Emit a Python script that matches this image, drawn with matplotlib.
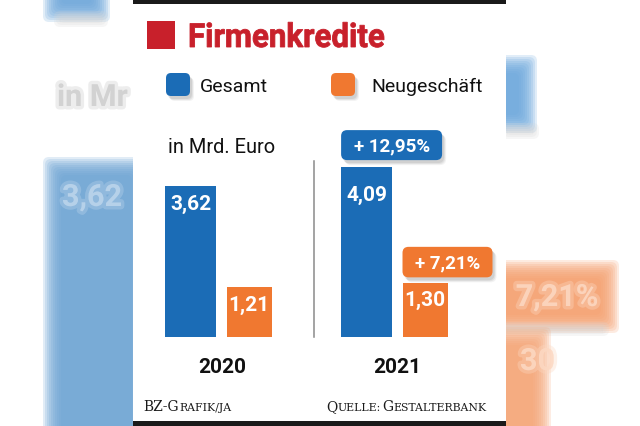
import numpy as np
import matplotlib.pyplot as plt
import matplotlib.patheffects as pe
from matplotlib.patches import FancyBboxPatch, Rectangle, PathPatch
from matplotlib.offsetbox import TextArea, HPacker, DrawingArea, AnnotationBbox
from matplotlib.textpath import TextPath
from matplotlib.font_manager import FontProperties
from matplotlib.transforms import Affine2D

# Daten (Mrd. Euro)
years = ['2020', '2021']
gesamt = [3.62, 4.09]
neugeschaeft = [1.21, 1.30]
change_gesamt = '+ 12,95%'
change_neu = '+ 7,21%'

BLUE = '#1b6cb6'
ORANGE = '#f07830'
RED = '#c8202b'
SANS = ['Roboto', 'DejaVu Sans']

W, H = 640, 427


def fig_rect(x0, y0, x1, y1):
    return [x0 / W, 1 - y1 / H, (x1 - x0) / W, (y1 - y0) / H]


def soft_rect(ax, x0, y0, x1, y1, color, blur=10, alpha=0.2, zorder=1):
    # weicher Rand fuer den unscharfen Hintergrund
    for e in range(blur, -blur, -2):
        ax.add_patch(FancyBboxPatch((x0 - e, y0 - e), x1 - x0 + 2 * e, y1 - y0 + 2 * e,
                                    boxstyle='round,pad=0,rounding_size=6',
                                    color=color, alpha=alpha, lw=0, zorder=zorder))


def blur_text(ax, x, y, s, color, **kw):
    ax.text(x, y, s, size=22, color=color, va='center', family=SANS, weight='bold',
            alpha=0.8, path_effects=[pe.withStroke(linewidth=5, foreground=color, alpha=0.35)],
            **kw)


def rounded(ax, x0, y0, w, h, color, r=5, shadow=True, zorder=3):
    if shadow:
        for dx, dy, a in [(4, 5, 0.07), (3, 4, 0.1), (2, 3, 0.12)]:
            ax.add_patch(FancyBboxPatch((x0 + dx, y0 + dy), w, h,
                                        boxstyle=f'round,pad=0,rounding_size={r}',
                                        color='#555555', alpha=a, lw=0, zorder=zorder - 1))
    ax.add_patch(FancyBboxPatch((x0, y0), w, h, boxstyle=f'round,pad=0,rounding_size={r}',
                                color=color, lw=0, zorder=zorder))


def small_caps(ax, s, xy, align, big=10, small=7.8):
    parts, sizes = [], []
    size = big
    for ch in s:
        if ch == ' ':
            parts.append(' ')
            sizes.append(None)
            continue
        if ch.islower():
            size = small
        elif ch.isupper():
            size = big
        if sizes and sizes[-1] == size:
            parts[-1] += ch
        else:
            parts.append(ch)
            sizes.append(size)
    kids = []
    for p, sz in zip(parts, sizes):
        if sz is None:
            kids.append(DrawingArea(1.5, 0))
        else:
            kids.append(TextArea(p.upper(), textprops=dict(size=sz, family='DejaVu Serif',
                                                           color='#1a1a1a')))
    pack = HPacker(children=kids, align='baseline', pad=0, sep=0)
    ab = AnnotationBbox(pack, xy, xycoords='data', box_alignment=(align, 0),
                        frameon=False, pad=0)
    ax.add_artist(ab)


fig = plt.figure(figsize=(6.4, 4.27), dpi=100)
bg = fig.add_axes([0, 0, 1, 1])
bg.set_xlim(0, W)
bg.set_ylim(H, 0)
bg.axis('off')

# unscharfer Hintergrund links
soft_rect(bg, 53, -10, 100, 13, '#6aa5da')
soft_rect(bg, 58, 16, 104, 24, '#d4d4d4', blur=4)
blur_text(bg, 57, 98, 'in Mr', '#cecece')
soft_rect(bg, 53, 168, 140, 440, '#6aa3d3')
blur_text(bg, 62, 198, '3,62', '#bcd5ec')

# unscharfer Hintergrund rechts
soft_rect(bg, 495, 66, 527, 124, '#69a6dc')
soft_rect(bg, 505, 128, 535, 136, '#d4d4d4', blur=4)
soft_rect(bg, 495, 271, 609, 324, '#f59e6c')
soft_rect(bg, 505, 327, 605, 333, '#d4d4d4', blur=4)
blur_text(bg, 598, 298, '7,21%', '#fcd8c2', ha='right')
soft_rect(bg, 495, 338, 541, 440, '#f5a474')
blur_text(bg, 520, 362, '30', '#fcd8c2')

# weisses Panel mit schwarzen Balken oben und unten
bg.add_patch(Rectangle((133, 0), 373, H, color='white', lw=0, zorder=2))
bg.add_patch(Rectangle((133, 0), 373, 4.5, color='#1a1a1a', lw=0, zorder=2))
bg.add_patch(Rectangle((133, 422), 373, 6, color='#1a1a1a', lw=0, zorder=2))

# Titel (schmal gesetzt)
bg.add_patch(Rectangle((147, 22.3), 27.5, 27.7, color=RED, lw=0, zorder=3))
fp = FontProperties(family='Roboto', weight='bold')
tp = TextPath((0, 0), 'Firmenkredite', size=100, prop=fp)
ext = tp.get_extents()
cap = TextPath((0, 0), 'F', size=100, prop=fp).get_extents().y1
tr = Affine2D().translate(-ext.x0, 0).scale(194 / ext.width, -23.5 / cap).translate(190, 48)
bg.add_patch(PathPatch(tr.transform_path(tp), facecolor=RED, edgecolor=RED, lw=0.6, zorder=3))

# Legende
rounded(bg, 166, 74, 24, 23, BLUE)
bg.text(200, 92, 'Gesamt', size=14, family=SANS, color='#111111', va='baseline', zorder=3)
rounded(bg, 331, 74, 24, 23, ORANGE)
bg.text(371, 92, 'Neugeschäft', size=14, family=SANS, color='#111111', va='baseline', zorder=3)

bg.text(167.5, 153.3, 'in Mrd. Euro', size=14.4, family=SANS, color='#111111',
        va='baseline', zorder=3)

# Trennlinie
bg.plot([314, 314], [162, 338], color='#8a8a8a', lw=1.1, zorder=3)

# Balken
px_per_unit = 41.66
ax = fig.add_axes(fig_rect(134, 130, 506, 338.2))
ax.set_ylim(0, (338.2 - 130) / px_per_unit)
ax.set_xlim((134 - 220) / 175.8, (506 - 220) / 175.8)
ax.patch.set_visible(False)
for s in ax.spines.values():
    s.set_visible(False)
ax.set_yticks([])

x = np.arange(len(years))
off = 0.1664
bars_g = ax.bar(x - off, gesamt, 0.2895, color=BLUE)
bars_n = ax.bar(x + off, neugeschaeft, 0.2565, color=ORANGE)

ax.set_xticks(x + 0.01, years)
ax.tick_params(axis='x', length=0, pad=14)
for t in ax.get_xticklabels():
    t.set_fontsize(15)
    t.set_fontweight('bold')
    t.set_family(SANS)
    t.set_color('#111111')

gaps = [[7, 8], [18, 7]]
for i in range(len(years)):
    for j, (bars, vals) in enumerate([(bars_g, gesamt), (bars_n, neugeschaeft)]):
        b = bars[i]
        ax.annotate(f'{vals[i]:.2f}'.replace('.', ','),
                    (b.get_x() + b.get_width() / 2, b.get_height()),
                    xytext=(0, -gaps[i][j] * 0.72), textcoords='offset points',
                    ha='center', va='top', color='white', fontsize=15,
                    fontweight='bold', family=SANS)


def to_px(xd, yd):
    dx, dy = ax.transData.transform((xd, yd))
    return dx, H - dy


# Veraenderungen 2021
for bars, txt, w, h, gap, col in [(bars_g, change_gesamt, 101, 30, 6.7, BLUE),
                                  (bars_n, change_neu, 90, 30.5, 5.7, ORANGE)]:
    b = bars[1]
    px, py = to_px(b.get_x(), b.get_height())
    y0 = py - gap - h
    rounded(bg, px, y0, w, h, col, r=6)
    bg.text(px + w / 2, y0 + h / 2 + 0.5, txt, ha='center', va='center', color='white',
            fontsize=13.5, fontweight='bold', family=SANS, zorder=4)

# Fusszeile
small_caps(bg, 'BZ-Grafik/ja', (143.3, 414), 0)
small_caps(bg, 'Quelle: Gestalterbank', (487, 414), 1)

fig.savefig('out.png', dpi=100)
